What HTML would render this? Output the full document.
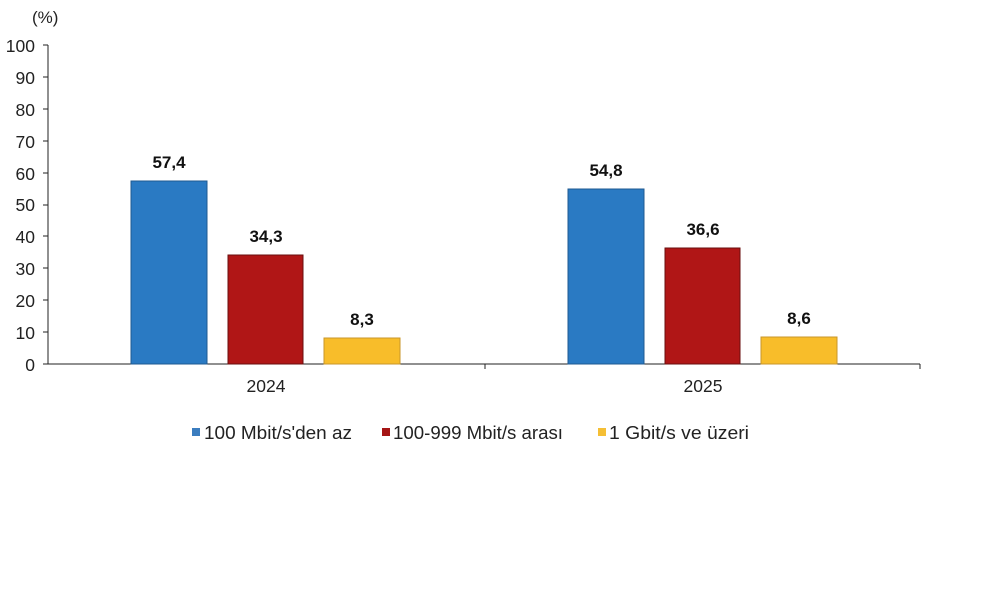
<!DOCTYPE html>
<html><head><meta charset="utf-8"><style>body{margin:0;background:#fff}svg{display:block}</style></head>
<body>
<svg width="1000" height="593" xmlns="http://www.w3.org/2000/svg" font-family="Liberation Sans, Arial, sans-serif">
<rect width="1000" height="593" fill="#fff"/>
<text x="32" y="23" font-size="17" fill="#222">(%)</text>
<g font-size="17.5" fill="#222" text-anchor="end">
<text x="35" y="52">100</text><text x="35" y="84">90</text><text x="35" y="116">80</text><text x="35" y="148">70</text><text x="35" y="180">60</text><text x="35" y="211">50</text><text x="35" y="243">40</text><text x="35" y="275">30</text><text x="35" y="307">20</text><text x="35" y="339">10</text><text x="35" y="371">0</text>
</g>
<g stroke="#222" stroke-width="1">
<line x1="48" y1="45" x2="48" y2="364"/>
<line x1="48" y1="364" x2="920" y2="364"/>
<line x1="43" y1="45" x2="48" y2="45"/><line x1="43" y1="77" x2="48" y2="77"/><line x1="43" y1="109" x2="48" y2="109"/><line x1="43" y1="141" x2="48" y2="141"/><line x1="43" y1="173" x2="48" y2="173"/><line x1="43" y1="205" x2="48" y2="205"/><line x1="43" y1="236" x2="48" y2="236"/><line x1="43" y1="268" x2="48" y2="268"/><line x1="43" y1="300" x2="48" y2="300"/><line x1="43" y1="332" x2="48" y2="332"/><line x1="43" y1="364" x2="48" y2="364"/>
<line x1="485" y1="364" x2="485" y2="369"/><line x1="920" y1="364" x2="920" y2="369"/>
</g>
<g stroke-width="1">
<rect x="131" y="181" width="76" height="183" fill="#2a7ac3" stroke="#1f5a90"/>
<rect x="228" y="255" width="75" height="109" fill="#b01616" stroke="#6a0e0e"/>
<rect x="324" y="338" width="76" height="26" fill="#f8bd2a" stroke="#c8962a"/>
<rect x="568" y="189" width="76" height="175" fill="#2a7ac3" stroke="#1f5a90"/>
<rect x="665" y="248" width="75" height="116" fill="#b01616" stroke="#6a0e0e"/>
<rect x="761" y="337" width="76" height="27" fill="#f8bd2a" stroke="#c8962a"/>
</g>
<g font-size="17" font-weight="bold" fill="#111" text-anchor="middle">
<text x="169" y="168">57,4</text><text x="266" y="242">34,3</text><text x="362" y="325">8,3</text>
<text x="606" y="176">54,8</text><text x="703" y="235">36,6</text><text x="799" y="324">8,6</text>
</g>
<g font-size="17.5" fill="#222" text-anchor="middle">
<text x="266" y="392">2024</text><text x="703" y="392">2025</text>
</g>
<rect x="192" y="428" width="8" height="8" fill="#3b7dbf"/>
<rect x="382" y="428" width="8" height="8" fill="#a51515"/>
<rect x="598" y="428" width="8" height="8" fill="#f5bf35"/>
<g font-size="18" fill="#222">
<text x="204" y="439" textLength="148" lengthAdjust="spacingAndGlyphs">100 Mbit/s'den az</text>
<text x="393" y="439" textLength="170" lengthAdjust="spacingAndGlyphs">100-999 Mbit/s arası</text>
<text x="609" y="439" textLength="140" lengthAdjust="spacingAndGlyphs">1 Gbit/s ve üzeri</text>
</g>
</svg>
</body></html>
